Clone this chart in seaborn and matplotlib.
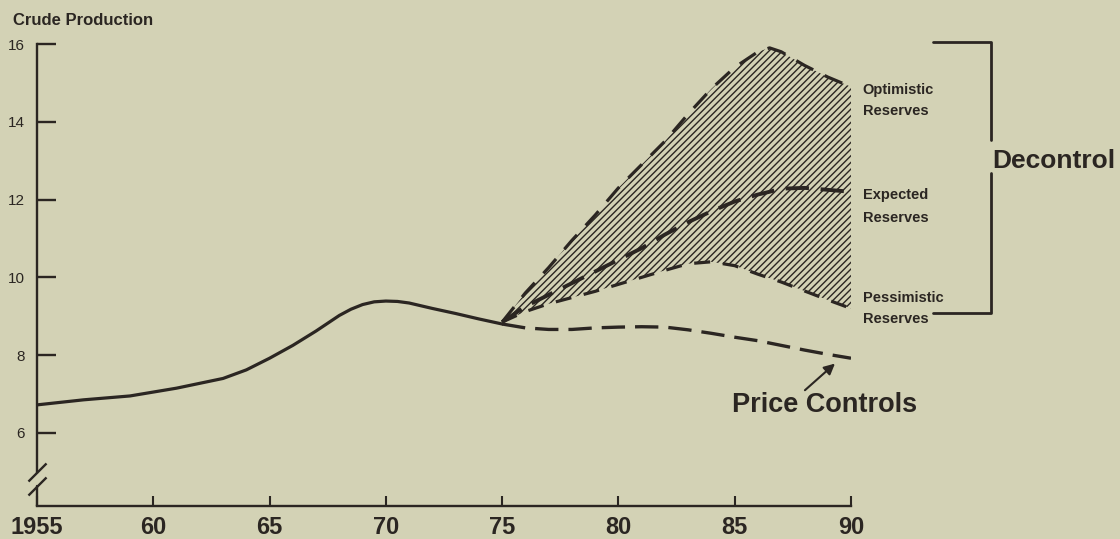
import matplotlib
matplotlib.use("Agg")
import matplotlib.pyplot as plt
import seaborn as sns

# Historical crude production (solid curve)
hist_years = [1955, 1957, 1959, 1961, 1963, 1964, 1965, 1966, 1967, 1968,
              1968.5, 1969, 1969.5, 1970, 1970.5, 1971, 1972, 1973, 1974, 1975]
hist_prod = [6.72, 6.85, 6.95, 7.15, 7.40, 7.62, 7.92, 8.25, 8.62, 9.02,
             9.18, 9.30, 9.37, 9.39, 9.38, 9.34, 9.20, 9.07, 8.93, 8.80]

# Projections 1975-1990
fc_years = [1975, 1976, 1977, 1978, 1979, 1980, 1981, 1982, 1983, 1984,
            1985, 1986, 1986.5, 1987, 1988, 1989, 1990]
optimistic = [8.85, 9.60, 10.25, 10.95, 11.60, 12.30, 12.90, 13.50, 14.20, 14.85,
              15.40, 15.80, 15.90, 15.80, 15.45, 15.15, 14.90]
expected = [8.85, 9.25, 9.55, 9.85, 10.15, 10.45, 10.75, 11.10, 11.42, 11.70,
            11.95, 12.13, 12.20, 12.28, 12.30, 12.25, 12.20]
pessimistic = [8.85, 9.12, 9.32, 9.48, 9.64, 9.82, 10.00, 10.18, 10.35, 10.40,
               10.30, 10.08, 9.98, 9.88, 9.65, 9.42, 9.20]
price_controls = [8.80, 8.70, 8.66, 8.66, 8.70, 8.72, 8.73, 8.72, 8.65, 8.56,
                  8.46, 8.37, 8.31, 8.25, 8.13, 8.02, 7.92]

x_ticks = [1955, 1960, 1965, 1970, 1975, 1980, 1985, 1990]
x_labels = ["1955", "60", "65", "70", "75", "80", "85", "90"]
y_ticks = [6, 8, 10, 12, 14, 16]

BG = "#d3d2b5"
INK = "#2b2622"

sns.set_theme(style="white", rc={"axes.facecolor": BG, "figure.facecolor": BG})
plt.rcParams["font.family"] = ["Liberation Sans", "DejaVu Sans"]
plt.rcParams["hatch.linewidth"] = 1.0
plt.rcParams["hatch.color"] = INK

W, H = 1120, 539
fig = plt.figure(figsize=(W / 100, H / 100), dpi=100)
ax = fig.add_axes([37 / W, 1 - 506 / H, (851 - 37) / W, (506 - 44) / H])
ax.set_xlim(1955, 1990)
ax.set_ylim(4.12, 16)

# hatched band between optimistic and pessimistic
ax.fill_between(fc_years, pessimistic, optimistic, facecolor="none",
                edgecolor=INK, hatch="/////", linewidth=0)

sns.lineplot(x=hist_years, y=hist_prod, ax=ax, color=INK, lw=2.3)

# dashed projections: (values, linewidth, dash pattern)
styles = [
    (optimistic, 2.3, (6, 4)),
    (expected, 2.8, (6, 3)),
    (pessimistic, 2.3, (5, 4)),
    (price_controls, 2.4, (7, 3)),
]
for vals, lw, dash in styles:
    sns.lineplot(x=fc_years, y=vals, ax=ax, color=INK, lw=lw)
    ax.lines[-1].set_dashes(dash)

# axes styling
for side in ["top", "right"]:
    ax.spines[side].set_visible(False)
for side in ["left", "bottom"]:
    ax.spines[side].set_color(INK)
    ax.spines[side].set_linewidth(1.7)

# broken y axis
brk_hi, brk_lo = 5.0, 4.64
ax.spines["left"].set_bounds(brk_hi, 16)
ax.plot([1955, 1955], [4.12, brk_lo], color=INK, lw=1.7, clip_on=False)
ax.plot([1955, 1955], [brk_hi, brk_lo], ls="none", marker=[(-1, -1), (1, 1)],
        ms=13, mew=1.7, color=INK, clip_on=False)

ax.set_yticks(y_ticks)
ax.set_yticklabels([str(v) for v in y_ticks])
ax.tick_params(axis="y", direction="in", length=14, width=1.7, pad=8.5,
               labelsize=11, colors=INK, left=True)
ax.set_xticks(x_ticks)
ax.set_xticklabels(x_labels)
ax.tick_params(axis="x", direction="in", length=7, width=1.5, pad=7,
               labelsize=17, colors=INK, bottom=True)
for lbl in ax.get_xticklabels():
    lbl.set_fontweight("bold")
ax.set_xlabel("")
ax.set_ylabel("")

# labels next to the scenarios
side_labels = [
    ("Optimistic", 14.71), ("Reserves", 14.175),
    ("Expected", 12.02), ("Reserves", 11.42),
    ("Pessimistic", 9.37), ("Reserves", 8.83),
]
for txt, yv in side_labels:
    ax.text(1990.5, yv, txt, fontsize=10.5, fontweight="bold", color=INK,
            va="baseline", ha="left", clip_on=False)

# Decontrol bracket
bx0, bx1 = 1993.52, 1996.02
ax.plot([bx0, bx1, bx1], [16.05, 16.05, 13.53], color=INK, lw=2, clip_on=False)
ax.plot([bx1, bx1, bx0], [12.68, 9.085, 9.085], color=INK, lw=2, clip_on=False)
ax.text(1996.06, 12.81, "Decontrol", fontsize=19, fontweight="bold", color=INK,
        va="baseline", ha="left", clip_on=False)

# Price controls callout
ax.annotate("", xy=(1989.4, 7.83), xytext=(1987.93, 7.05),
            arrowprops=dict(arrowstyle="-|>", lw=1.5, color=INK, mutation_scale=16))
ax.text(1984.88, 6.55, "Price Controls", fontsize=19.5, fontweight="bold",
        color=INK, va="baseline", ha="left")

fig.text(13 / W, 1 - 25 / H, "Crude Production", fontsize=12, fontweight="bold",
         color=INK, va="baseline", ha="left")

fig.savefig("out.png", dpi=100, facecolor=BG)
